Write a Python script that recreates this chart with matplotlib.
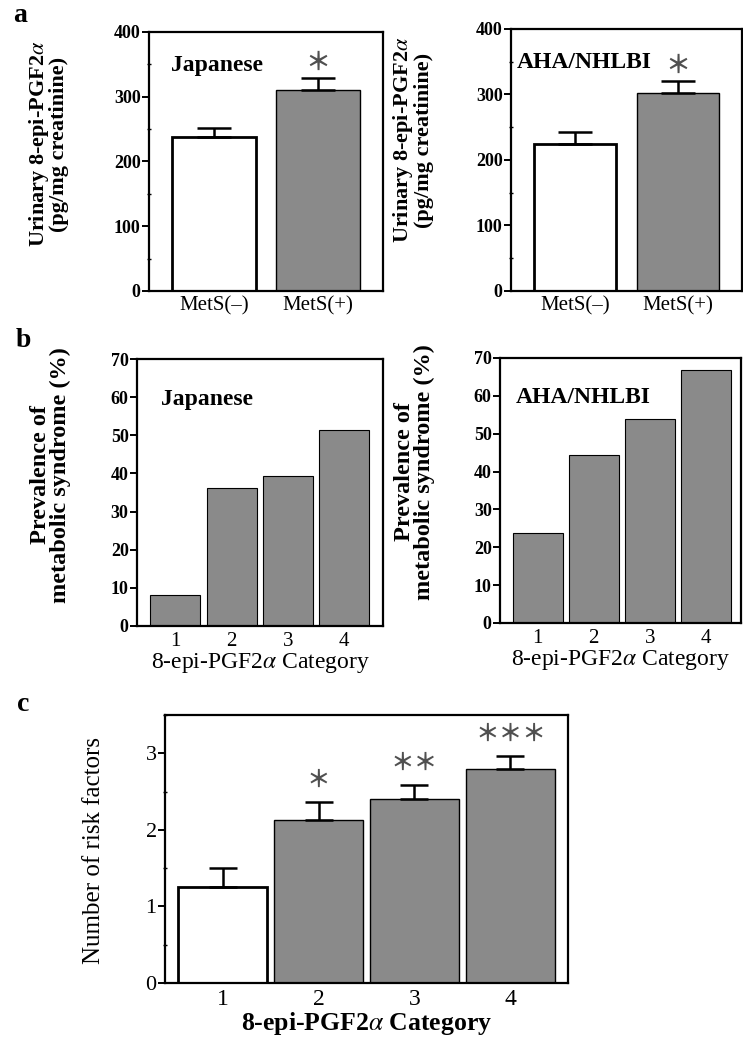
import matplotlib.pyplot as plt
from matplotlib.ticker import MultipleLocator

# ---------------------------------------------------------------------
# Data
# ---------------------------------------------------------------------
mets_labels = ["MetS(\u2013)", "MetS(+)"]
jp_urinary = [238, 311]
jp_urinary_err = [13, 18]
aha_urinary = [224, 302]
aha_urinary_err = [18, 18]

categories = ["1", "2", "3", "4"]
jp_prevalence = [8.0, 36.1, 39.4, 51.4]
aha_prevalence = [23.8, 44.3, 53.8, 66.9]

risk_factors = [1.26, 2.13, 2.40, 2.79]
risk_factors_err = [0.24, 0.24, 0.19, 0.18]
risk_stars = [0, 1, 2, 3]

GRAY = "#8a8a8a"
STAR = "\uff0a"
STAR_FONT = ["Noto Sans CJK JP"]
SERIF = ["Liberation Serif", "DejaVu Serif"]

plt.rcParams["font.family"] = SERIF
plt.rcParams["mathtext.fontset"] = "stix"

fig = plt.figure(figsize=(7.43, 10.44), dpi=100)


def style_axes(ax, major, minor, tick_size, tick_weight):
    for spine in ax.spines.values():
        spine.set_linewidth(1.6)
    ax.yaxis.set_major_locator(MultipleLocator(major))
    if minor:
        ax.yaxis.set_minor_locator(MultipleLocator(minor))
    ax.tick_params(axis="y", which="major", direction="out", length=5, width=1.4,
                   labelsize=tick_size, pad=1)
    ax.tick_params(axis="y", which="minor", direction="inout", length=3, width=1.0)
    ax.tick_params(axis="x", length=0, pad=4)
    for lab in ax.get_yticklabels():
        lab.set_fontweight(tick_weight)


def draw_stars(ax, x, y, count, size):
    # significance marks: one string of full-width asterisks
    ax.text(x, y, STAR * count, ha="center", va="center", fontsize=size,
            fontweight="bold", color="#505050", family=STAR_FONT)


def urinary_panel(rect, values, errs, name, name_x, ylab_xy):
    ax = fig.add_axes(rect)
    x = [0, 1]
    ax.bar(x, values, width=0.8, color=["white", GRAY], edgecolor="black",
           linewidth=[2.0, 1.0])
    ax.errorbar(x, values, yerr=[[0, 0], errs], fmt="none", ecolor="black",
                elinewidth=1.8, capsize=12, capthick=1.8)
    ax.set_ylim(0, 400)
    ax.set_xlim(-0.62, 1.62)
    ax.set_xticks(x)
    ax.set_xticklabels(mets_labels, fontsize=15)
    style_axes(ax, 100, 50, 13, "bold")
    ax.set_ylabel("Urinary 8-epi-PGF2$\\alpha$\n(pg/mg creatinine)", fontsize=16,
                  fontweight="bold", linespacing=0.9)
    ax.yaxis.set_label_coords(*ylab_xy)
    ax.text(name_x, 0.87, name, transform=ax.transAxes, fontsize=17,
            fontweight="bold", va="center", ha="left")
    draw_stars(ax, 1, values[1] + errs[1] + 24, 1, 18)
    return ax


def prevalence_panel(rect, values, name, name_x, xlim, ylab_xy):
    ax = fig.add_axes(rect)
    x = [1, 2, 3, 4]
    ax.bar(x, values, width=0.89, color=GRAY, edgecolor="black", linewidth=0.8)
    ax.set_ylim(0, 70)
    ax.set_xlim(*xlim)
    ax.set_xticks(x)
    ax.set_xticklabels(categories, fontsize=15)
    style_axes(ax, 10, None, 13, "bold")
    ax.set_xlabel("8-epi-PGF2$\\alpha$ Category", fontsize=17, labelpad=0)
    ax.set_ylabel("Prevalence of\nmetabolic syndrome (%)", fontsize=17.5,
                  fontweight="bold", linespacing=0.9)
    ax.yaxis.set_label_coords(*ylab_xy)
    ax.text(name_x, 0.85, name, transform=ax.transAxes, fontsize=17,
            fontweight="bold", va="center", ha="left")
    return ax


urinary_panel([0.2005, 0.7213, 0.315, 0.2481], jp_urinary, jp_urinary_err,
              "Japanese", 0.094, (-0.34, 0.567))
urinary_panel([0.6878, 0.7213, 0.3109, 0.251], aha_urinary, aha_urinary_err,
              "AHA/NHLBI", 0.026, (-0.335, 0.576))

prevalence_panel([0.1844, 0.4004, 0.3311, 0.2557], jp_prevalence, "Japanese",
                 0.098, (0.32, 4.69), (-0.27, 0.566))
prevalence_panel([0.673, 0.4033, 0.3244, 0.2538], aha_prevalence, "AHA/NHLBI",
                 0.066, (0.33, 4.63), (-0.27, 0.57))

# panel c
ax = fig.add_axes([0.2221, 0.0584, 0.5424, 0.2567])
x = [1, 2, 3, 4]
ax.bar(x, risk_factors, width=0.92, color=["white", GRAY, GRAY, GRAY],
       edgecolor="black", linewidth=[2.0, 1.0, 1.0, 1.0])
ax.errorbar(x, risk_factors, yerr=[[0] * 4, risk_factors_err], fmt="none",
            ecolor="black", elinewidth=1.8, capsize=10, capthick=1.8)
for xi, v, e, n in zip(x, risk_factors, risk_factors_err, risk_stars):
    if n:
        draw_stars(ax, xi, v + e + 0.28, n, 17)
ax.set_ylim(0, 3.5)
ax.set_xlim(0.4, 4.6)
ax.set_xticks(x)
ax.set_xticklabels(categories, fontsize=17)
style_axes(ax, 1, 0.5, 16, "normal")
ax.set_xlabel("8-epi-PGF2$\\alpha$ Category", fontsize=18.5, fontweight="bold",
              labelpad=0)
ax.set_ylabel("Number of risk factors", fontsize=18)
ax.yaxis.set_label_coords(-0.15, 0.496)

# panel letters
fig.text(0.027, 0.985, "a", fontsize=20, fontweight="bold", va="center", ha="center")
fig.text(0.031, 0.674, "b", fontsize=20, fontweight="bold", va="center", ha="center")
fig.text(0.031, 0.325, "c", fontsize=20, fontweight="bold", va="center", ha="center")

fig.savefig("out.png", dpi=100)
